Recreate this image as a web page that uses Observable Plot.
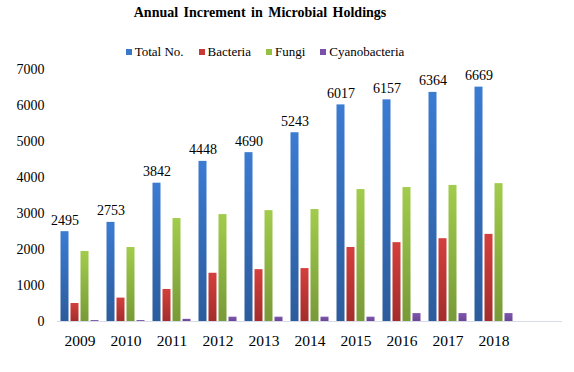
<!DOCTYPE html>
<html>
<head>
<meta charset="utf-8">
<script src="https://cdn.jsdelivr.net/npm/d3@7"></script>
<script src="https://cdn.jsdelivr.net/npm/@observablehq/plot@0.6"></script>
<style>
  body { margin: 0; background: #fff; font-family: "Liberation Serif", "Times New Roman", serif; color: #000; }
  #wrap { width: 574px; height: 372px; overflow: hidden; }
  #title { height: 26px; line-height: 26px; font-size: 14px; font-weight: bold; text-align: center; padding-right: 54px; word-spacing: 2px; }
  #legend { margin-top: 18px; height: 16px; line-height: 16px; font-size: 13px; display: flex; justify-content: center; gap: 15px; padding-right: 44px; }
  .item { display: flex; align-items: center; }
  .sw { width: 6px; height: 6px; margin-right: 3px; display: inline-block; }
</style>
</head>
<body>
<div id="wrap">
  <div id="title">Annual Increment in Microbial Holdings</div>
  <div id="legend"></div>
  <div id="chart"></div>
</div>
<script>
// ---- data ----
const years = ["2009", "2010", "2011", "2012", "2013", "2014", "2015", "2016", "2017", "2018"];
const totalLabels = [2495, 2753, 3842, 4448, 4690, 5243, 6017, 6157, 6364, 6669];
const totalBars = [2495, 2753, 3842, 4448, 4690, 5243, 6017, 6157, 6364, 6510];
const bacteria = [500, 650, 890, 1340, 1440, 1470, 2055, 2190, 2300, 2420];
const fungi = [1945, 2055, 2860, 2970, 3080, 3110, 3665, 3720, 3780, 3830];
const cyanobacteria = [25, 25, 60, 120, 120, 120, 120, 220, 220, 220];
const seriesNames = ["Total No.", "Bacteria", "Fungi", "Cyanobacteria"];
const yTicks = [0, 1000, 2000, 3000, 4000, 5000, 6000, 7000];
const xDomain = [...years, " "];

// ---- styles ----
const seriesStyle = [
  {id: "gBlue", top: "#3b7bd2", bottom: "#2c5c9c", swatch: "#3a78c8", insetLeft: 0, insetRight: 30},
  {id: "gRed", top: "#d43f3c", bottom: "#a32d2c", swatch: "#c83a38", insetLeft: 10, insetRight: 20},
  {id: "gGreen", top: "#a2cc4c", bottom: "#789a38", swatch: "#94c044", insetLeft: 20, insetRight: 10},
  {id: "gPurple", top: "#7f56ae", bottom: "#6a4694", swatch: "#7a50a8", insetLeft: 30, insetRight: 0}
];
const seriesValues = [totalBars, bacteria, fungi, cyanobacteria];

// legend
const legend = document.getElementById("legend");
seriesNames.forEach((n, i) => {
  const it = document.createElement("span");
  it.className = "item";
  it.innerHTML = `<span class="sw" style="background:${seriesStyle[i].swatch}"></span>${n}`;
  legend.appendChild(it);
});

function gradients() {
  const defs = d3.create("svg:defs");
  for (const s of seriesStyle) {
    const g = defs.append("linearGradient").attr("id", s.id)
      .attr("x1", 0).attr("y1", 0).attr("x2", 0).attr("y2", 1);
    g.append("stop").attr("offset", "0%").attr("stop-color", s.top);
    g.append("stop").attr("offset", "100%").attr("stop-color", s.bottom);
  }
  return defs.node();
}

const barMarks = seriesValues.map((vals, i) => {
  const s = seriesStyle[i];
  const data = years.map((y, j) => ({year: y, value: vals[j]}));
  return Plot.barY(data, {
    x: "year", y: "value",
    fill: `url(#${s.id})`,
    insetLeft: s.insetLeft, insetRight: s.insetRight
  });
});

const labelData = years.map((y, j) => ({year: y, bar: totalBars[j], label: totalLabels[j]}));

const chart = Plot.plot({
  width: 574,
  height: 312,
  marginTop: 9,
  marginBottom: 51,
  marginLeft: 57,
  marginRight: 12,
  style: {fontFamily: "'Liberation Serif', 'Times New Roman', serif", fontSize: "14px", color: "#000", background: "#fff"},
  x: {domain: xDomain, paddingInner: 0.174, paddingOuter: 0.076, round: false},
  y: {domain: [0, 7000]},
  marks: [
    gradients,
    ...barMarks,
    Plot.ruleY([0], {stroke: "#d6dde9", strokeWidth: 1.2}),
    Plot.text(labelData, {x: "year", y: "bar", text: d => String(d.label), dx: -15, dy: -7, lineAnchor: "bottom", fontSize: 14, fill: "#000"}),
    Plot.axisY({ticks: yTicks, tickSize: 0, tickPadding: 13, fontSize: 14, label: null, tickFormat: d => String(d)}),
    Plot.axisX({tickSize: 0, tickPadding: 13, fontSize: 15.5, label: null})
  ]
});
document.getElementById("chart").appendChild(chart);
</script>
</body>
</html>
